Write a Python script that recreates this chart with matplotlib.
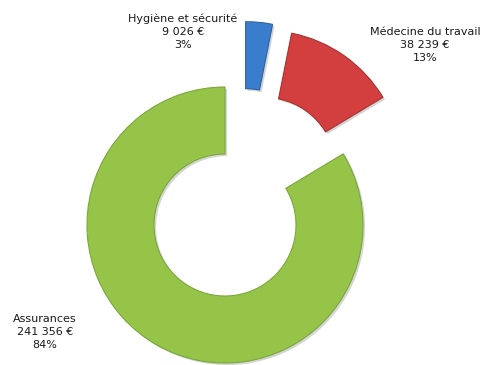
import numpy as np
import matplotlib.pyplot as plt
import matplotlib.patheffects as pe

# budget breakdown
labels = ['Hygiène et sécurité', 'Médecine du travail', 'Assurances']
amounts = [9026, 38239, 241356]
colors = ['#3a7dcc', '#d33f3f', '#95c449']
edges = ['#2a63a8', '#a83030', '#7aa83a']

total = sum(amounts)
shares = [a / total * 100 for a in amounts]

fig = plt.figure(figsize=(4.82, 3.65), dpi=100)
ax = fig.add_axes([0, 0, 1, 1])

R = 138
explode = [0.49 * R, 0.5 * R, 0]
wedges, _ = ax.pie(amounts, colors=colors, radius=R, center=(225, 140),
                   startangle=90, counterclock=False, explode=explode,
                   wedgeprops=dict(width=67, linewidth=0.8), frame=True)
for w, ec in zip(wedges, edges):
    w.set_edgecolor(ec)
    w.set_joinstyle('round')
    w.set_path_effects([pe.SimplePatchShadow(offset=(1.5, -1.5), alpha=0.25,
                                             shadow_rgbFace='#555555'),
                        pe.Normal()])

# the small slice sits a bit further right
cx, cy = wedges[0].center
wedges[0].set_center((cx + 14, cy - 2))

ax.set_xlim(0, 482)
ax.set_ylim(0, 365)
ax.set_aspect('equal')
ax.axis('off')


def fmt(v):
    return f'{v:,}'.replace(',', ' ') + ' €'


label_pos = [(183, 333), (425, 320), (45, 33)]
for lab, amt, pct, (x, y) in zip(labels, amounts, shares, label_pos):
    ax.text(x, y, f'{lab}\n{fmt(amt)}\n{pct:.0f}%', ha='center', va='center',
            fontsize=8, family='DejaVu Sans', linespacing=1.35, color='#1a1a1a')

fig.savefig('out.png', dpi=100)
